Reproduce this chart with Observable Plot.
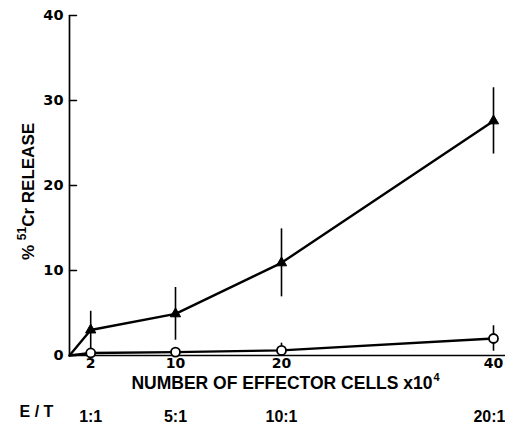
<!DOCTYPE html>
<html><head><meta charset="utf-8">
<script src="https://cdn.jsdelivr.net/npm/d3@7"></script>
<script src="https://cdn.jsdelivr.net/npm/@observablehq/plot@0.6"></script>
<style>body{margin:0;background:#fff}</style>
</head><body><div id="chart"></div>
<script>
const effectorCells = [2, 10, 20, 40];
const etRatios = ["1:1", "5:1", "10:1", "20:1"];
const immuneMean = [3.0, 4.9, 10.9, 27.6];
const immuneErr = [2.2, 3.1, 4.0, 3.9];
const controlMean = [0.3, 0.4, 0.6, 2.0];
const controlErr = [0.3, 0.4, 0.85, 1.5];
const yTicks = [0, 10, 20, 30, 40];
const origin = [{x: 0, y: 0}];
const yLabel = ["%", "51", "Cr RELEASE"];
const xLabel = ["NUMBER OF EFFECTOR CELLS x10", "4"];
const etLabel = "E / T";

const immune = effectorCells.map((x, i) => ({x, y: immuneMean[i], e: immuneErr[i]}));
const control = effectorCells.map((x, i) => ({x, y: controlMean[i], e: controlErr[i]}));
const etRows = effectorCells.map((x, i) => ({x, label: etRatios[i]}));
const tickShape = {draw(context, l) { context.moveTo(0, 0); context.lineTo(0, -l); }};
const font = "'Liberation Sans', Arial, sans-serif";
const digitFont = "'DejaVu Sans', sans-serif";

const chart = Plot.plot({
  width: 505, height: 433,
  marginLeft: 69, marginRight: 12, marginTop: 15, marginBottom: 78,
  style: {fontFamily: font, fontWeight: "bold", color: "#000", background: "#fff"},
  x: {domain: [0, 40]},
  y: {domain: [0, 40]},
  marks: [
    Plot.ruleX([0], {stroke: "#000", strokeWidth: 1.7}),
    Plot.ruleY([0], {stroke: "#000", strokeWidth: 1.7, insetRight: -12}),
    Plot.vector(yTicks, {x: () => 0, y: d => d, rotate: 90, length: 7, anchor: "start", shape: tickShape, stroke: "#000", strokeWidth: 1.5}),
    Plot.axisY({ticks: yTicks, tickSize: 0, tickPadding: 6, label: null, fontSize: 14.5, fontWeight: "bold", fontFamily: digitFont}),
    Plot.axisX({ticks: effectorCells, tickSize: 0, tickPadding: 3, label: null, fontSize: 14, fontWeight: "bold", fontFamily: digitFont}),
    Plot.ruleX(immune, {x: "x", y1: d => d.y - d.e, y2: d => d.y + d.e, stroke: "#000", strokeWidth: 1.6}),
    Plot.ruleX(control, {x: "x", y1: d => Math.max(0, d.y - d.e), y2: d => d.y + d.e, stroke: "#000", strokeWidth: 1.6}),
    Plot.line(origin.concat(immune), {x: "x", y: "y", stroke: "#000", strokeWidth: 2.4}),
    Plot.line(origin.concat(control), {x: "x", y: "y", stroke: "#000", strokeWidth: 2.4}),
    Plot.dot(immune, {x: "x", y: "y", symbol: "triangle", r: 3.8, fill: "#000", stroke: "#000", strokeWidth: 1}),
    Plot.dot(control, {x: "x", y: "y", symbol: "circle", r: 4.5, fill: "#fff", stroke: "#000", strokeWidth: 1.8}),
    Plot.text([xLabel.join("")], {frameAnchor: "bottom", dx: 4, dy: 33, fontSize: 17.5, fontWeight: "bold", className: "xlab"}),
    Plot.text(etRows.slice(0, 3), {x: "x", y: () => 0, text: "label", dy: 61, fontSize: 16, fontWeight: "bold"}),
    Plot.text(etRows.slice(3), {x: "x", y: () => 0, text: "label", textAnchor: "end", dx: 12, dy: 61, fontSize: 16, fontWeight: "bold"}),
    Plot.text([etLabel], {frameAnchor: "bottom-left", textAnchor: "middle", dx: -33, dy: 61, fontSize: 16, fontWeight: "bold"}),
    Plot.text([yLabel.join("")], {frameAnchor: "left", rotate: -90, textAnchor: "middle", dx: -41, dy: 6, fontSize: 17, fontWeight: "bold", className: "ylab"})
  ]
});
// superscripts as real tspans
const ns = "http://www.w3.org/2000/svg";
function setParts(sel, parts) {
  const t = chart.querySelector(sel + " text");
  if (!t) return;
  t.textContent = "";
  parts.forEach(p => {
    const s = document.createElementNS(ns, "tspan");
    s.textContent = p.text;
    if (p.dy) s.setAttribute("dy", p.dy);
    if (p.size) s.setAttribute("font-size", p.size);
    if (p.dx) s.setAttribute("dx", p.dx);
    t.appendChild(s);
  });
}
setParts(".ylab", [{text: yLabel[0] + " "}, {text: yLabel[1], dy: -8, size: 12}, {text: yLabel[2].slice(0, 2), dy: 8}, {text: yLabel[2].slice(2)}]);
setParts(".xlab", [{text: xLabel[0]}, {text: xLabel[1], dy: -8, size: 11, dx: 1}]);
document.getElementById("chart").appendChild(chart);
</script>
</body></html>
